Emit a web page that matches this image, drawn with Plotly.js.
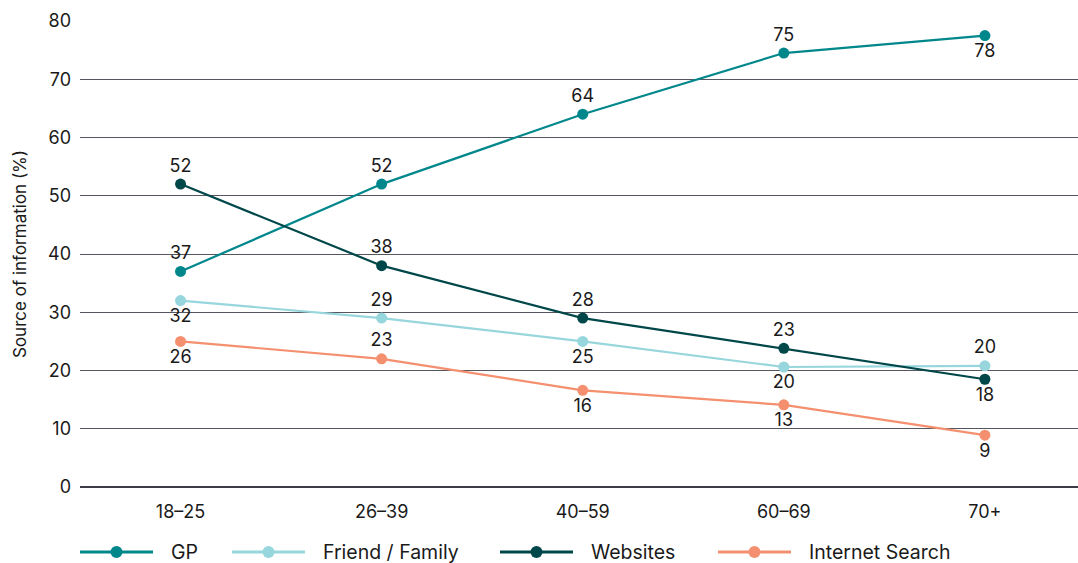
<!DOCTYPE html>
<html>
<head>
<meta charset="utf-8">
<script src="https://cdn.plot.ly/plotly-3.0.1.min.js"></script>
<style>html,body{margin:0;padding:0;background:#fff;}#chart{width:1078px;height:563px;}</style>
</head>
<body>
<div id="chart"></div>
<script>
const categories = ["18–25", "26–39", "40–59", "60–69", "70+"];
const gpValues = [37, 52, 64, 74.5, 77.5];
const gpLabels = ["37", "52", "64", "75", "78"];
const friendValues = [32, 29, 25, 20.6, 20.8];
const friendLabels = ["32", "29", "25", "20", "20"];
const websitesValues = [52, 38, 29, 23.8, 18.5];
const websitesLabels = ["52", "38", "28", "23", "18"];
const searchValues = [25, 22, 16.6, 14.1, 8.9];
const searchLabels = ["26", "23", "16", "13", "9"];
const yTicks = [0, 10, 20, 30, 40, 50, 60, 70, 80];
const seriesNames = ["GP", "Friend / Family", "Websites", "Internet Search"];
const seriesColors = ["#00878C", "#96D6DC", "#00474A", "#F4906F"];
const legendStarts = [80, 232, 500, 718];

const FONT = "Inter, 'Open Sans', sans-serif";
const TXT = "#1a1a1a";
const PL = 80, PW = 998, PT = 21, PH = 466;

function series(i, y, labels, pos) {
  return {
    type: "scatter", mode: "lines+markers+text", name: seriesNames[i],
    x: categories, y: y, text: labels, textposition: pos,
    textfont: {family: FONT, size: 18, color: TXT},
    line: {color: seriesColors[i], width: 2.2},
    marker: {color: seriesColors[i], size: 11},
    cliponaxis: false, hoverinfo: "skip", showlegend: false
  };
}

const data = [
  series(0, gpValues, gpLabels, ["top center","top center","top center","top center","bottom center"]),
  series(1, friendValues, friendLabels, ["bottom center","top center","bottom center","bottom center","top center"]),
  series(2, websitesValues, websitesLabels, ["top center","top center","top center","top center","bottom center"]),
  series(3, searchValues, searchLabels, ["bottom center","top center","bottom center","bottom center","bottom center"])
];

// manual legend (paper coordinates)
const shapes = [];
const annotations = [];
const legY = (PT + PH - 552) / PH;
seriesNames.forEach((n, i) => {
  const x0 = (legendStarts[i] - PL) / PW;
  const x1 = (legendStarts[i] + 73 - PL) / PW;
  const xm = (legendStarts[i] + 36.5 - PL) / PW;
  shapes.push({type: "line", xref: "paper", yref: "paper", x0: x0, x1: x1, y0: legY, y1: legY,
               line: {color: seriesColors[i], width: 3}});
  shapes.push({type: "circle", xref: "paper", yref: "paper", xsizemode: "pixel", ysizemode: "pixel",
               xanchor: xm, yanchor: legY, x0: -6, x1: 6, y0: -6, y1: 6,
               fillcolor: seriesColors[i], line: {width: 0}});
  annotations.push({xref: "paper", yref: "paper", x: (legendStarts[i] + 89 - PL) / PW, y: legY,
                    xanchor: "left", yanchor: "middle", showarrow: false, text: n,
                    font: {family: FONT, size: 19.5, color: TXT}});
});

const layout = {
  width: 1078, height: 563,
  margin: {l: PL, r: 0, t: PT, b: 563 - PT - PH},
  paper_bgcolor: "#fff", plot_bgcolor: "#fff",
  font: {family: FONT, size: 18, color: TXT},
  showlegend: false,
  shapes: shapes, annotations: annotations,
  xaxis: {type: "category", range: [-0.5, 4.463], showgrid: false, zeroline: false, showline: false,
          ticks: "", ticklabelstandoff: 12, tickfont: {family: FONT, size: 18, color: TXT}, fixedrange: true},
  yaxis: {range: [0, 80], tickvals: yTicks, showgrid: true, gridcolor: "#55565e", gridwidth: 1,
          zeroline: true, zerolinecolor: "#3b3c46", zerolinewidth: 2.5, ticks: "",
          ticklabelstandoff: 8,
          tickfont: {family: FONT, size: 18, color: TXT},
          title: {text: "Source of information (%)", font: {family: FONT, size: 17, color: TXT}, standoff: 17},
          fixedrange: true}
};

Plotly.newPlot("chart", data, layout, {displayModeBar: false, staticPlot: true});
</script>
</body>
</html>
